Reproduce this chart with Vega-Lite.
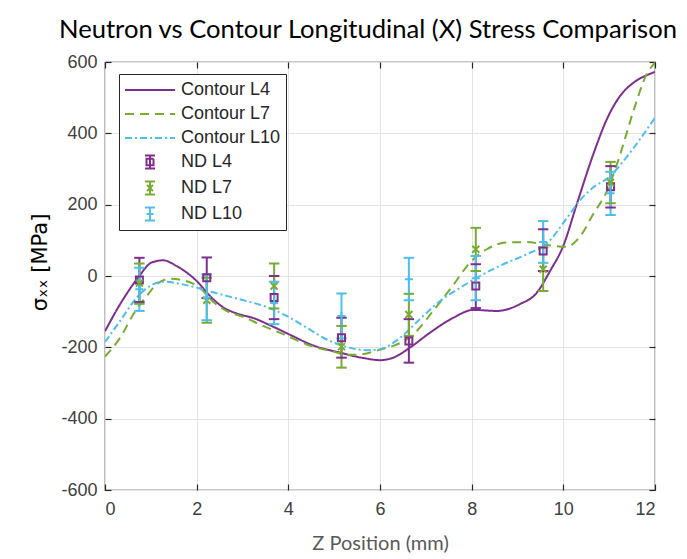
{
  "$schema": "https://vega.github.io/schema/vega-lite/v6.json",
  "width": 550,
  "height": 428,
  "autosize": {"type": "none"},
  "padding": {"left": 105, "top": 62, "right": 32, "bottom": 69},
  "background": "white",
  "title": {
    "text": "Neutron vs Contour Longitudinal (X) Stress Comparison",
    "font": "Lato",
    "fontSize": 25.6,
    "fontWeight": "normal",
    "color": "#000000",
    "anchor": "middle",
    "frame": "group",
    "dx": -12,
    "offset": 9
  },
  "config": {
    "view": {"stroke": "#262626", "strokeWidth": 1.2},
    "axis": {
      "labelFont": "Liberation Sans",
      "labelFontSize": 18,
      "labelColor": "#404040",
      "tickColor": "#262626",
      "tickSize": -6,
      "tickWidth": 1.2,
      "domain": false,
      "gridColor": "#E3E3E3",
      "gridWidth": 1
    }
  },
  "datasets": {
    "contour": [
      {"series": "Contour L4", "x": 0, "y": -155},
      {"series": "Contour L4", "x": 0.33, "y": -79},
      {"series": "Contour L4", "x": 0.72, "y": -5},
      {"series": "Contour L4", "x": 1.02, "y": 38},
      {"series": "Contour L4", "x": 1.27, "y": 44},
      {"series": "Contour L4", "x": 1.56, "y": 28},
      {"series": "Contour L4", "x": 2.0, "y": -14},
      {"series": "Contour L4", "x": 2.29, "y": -56},
      {"series": "Contour L4", "x": 2.58, "y": -88},
      {"series": "Contour L4", "x": 2.87, "y": -105},
      {"series": "Contour L4", "x": 3.24, "y": -118},
      {"series": "Contour L4", "x": 3.6, "y": -138},
      {"series": "Contour L4", "x": 4.04, "y": -165},
      {"series": "Contour L4", "x": 4.55, "y": -195},
      {"series": "Contour L4", "x": 5.13, "y": -215},
      {"series": "Contour L4", "x": 5.64, "y": -230},
      {"series": "Contour L4", "x": 6.0, "y": -236},
      {"series": "Contour L4", "x": 6.29, "y": -229},
      {"series": "Contour L4", "x": 6.65, "y": -201},
      {"series": "Contour L4", "x": 7.09, "y": -159},
      {"series": "Contour L4", "x": 7.6, "y": -117},
      {"series": "Contour L4", "x": 8.04, "y": -95},
      {"series": "Contour L4", "x": 8.55, "y": -98},
      {"series": "Contour L4", "x": 9.05, "y": -79},
      {"series": "Contour L4", "x": 9.42, "y": -47},
      {"series": "Contour L4", "x": 9.71, "y": 14},
      {"series": "Contour L4", "x": 10.0, "y": 85},
      {"series": "Contour L4", "x": 10.29, "y": 200},
      {"series": "Contour L4", "x": 10.65, "y": 340},
      {"series": "Contour L4", "x": 10.98, "y": 448},
      {"series": "Contour L4", "x": 11.24, "y": 505},
      {"series": "Contour L4", "x": 11.53, "y": 542},
      {"series": "Contour L4", "x": 11.82, "y": 563},
      {"series": "Contour L4", "x": 12.0, "y": 572},
      {"series": "Contour L7", "x": 0, "y": -226},
      {"series": "Contour L7", "x": 0.33, "y": -173},
      {"series": "Contour L7", "x": 0.62, "y": -107},
      {"series": "Contour L7", "x": 0.91, "y": -56},
      {"series": "Contour L7", "x": 1.13, "y": -23},
      {"series": "Contour L7", "x": 1.42, "y": -8},
      {"series": "Contour L7", "x": 1.71, "y": -12},
      {"series": "Contour L7", "x": 2.07, "y": -33},
      {"series": "Contour L7", "x": 2.36, "y": -72},
      {"series": "Contour L7", "x": 2.65, "y": -98},
      {"series": "Contour L7", "x": 3.02, "y": -115},
      {"series": "Contour L7", "x": 3.45, "y": -140},
      {"series": "Contour L7", "x": 3.89, "y": -163},
      {"series": "Contour L7", "x": 4.4, "y": -192},
      {"series": "Contour L7", "x": 4.98, "y": -212},
      {"series": "Contour L7", "x": 5.3, "y": -221},
      {"series": "Contour L7", "x": 5.56, "y": -220},
      {"series": "Contour L7", "x": 6.07, "y": -204},
      {"series": "Contour L7", "x": 6.29, "y": -196},
      {"series": "Contour L7", "x": 6.73, "y": -163},
      {"series": "Contour L7", "x": 7.16, "y": -98},
      {"series": "Contour L7", "x": 7.6, "y": -25},
      {"series": "Contour L7", "x": 7.96, "y": 37},
      {"series": "Contour L7", "x": 8.33, "y": 75},
      {"series": "Contour L7", "x": 8.76, "y": 94},
      {"series": "Contour L7", "x": 9.2, "y": 95},
      {"series": "Contour L7", "x": 9.64, "y": 87},
      {"series": "Contour L7", "x": 10.07, "y": 82},
      {"series": "Contour L7", "x": 10.36, "y": 110},
      {"series": "Contour L7", "x": 10.65, "y": 173},
      {"series": "Contour L7", "x": 10.95, "y": 238},
      {"series": "Contour L7", "x": 11.24, "y": 341},
      {"series": "Contour L7", "x": 11.53, "y": 463},
      {"series": "Contour L7", "x": 11.82, "y": 566},
      {"series": "Contour L7", "x": 12.0, "y": 598},
      {"series": "Contour L10", "x": 0, "y": -185},
      {"series": "Contour L10", "x": 0.33, "y": -126},
      {"series": "Contour L10", "x": 0.69, "y": -61},
      {"series": "Contour L10", "x": 0.98, "y": -28},
      {"series": "Contour L10", "x": 1.27, "y": -16},
      {"series": "Contour L10", "x": 1.64, "y": -22},
      {"series": "Contour L10", "x": 2.07, "y": -35},
      {"series": "Contour L10", "x": 2.51, "y": -51},
      {"series": "Contour L10", "x": 3.02, "y": -68},
      {"series": "Contour L10", "x": 3.53, "y": -87},
      {"series": "Contour L10", "x": 3.96, "y": -112},
      {"series": "Contour L10", "x": 4.4, "y": -145},
      {"series": "Contour L10", "x": 4.84, "y": -178},
      {"series": "Contour L10", "x": 5.27, "y": -199},
      {"series": "Contour L10", "x": 5.71, "y": -208},
      {"series": "Contour L10", "x": 6.0, "y": -205},
      {"series": "Contour L10", "x": 6.44, "y": -173},
      {"series": "Contour L10", "x": 6.87, "y": -121},
      {"series": "Contour L10", "x": 7.31, "y": -70},
      {"series": "Contour L10", "x": 7.75, "y": -33},
      {"series": "Contour L10", "x": 8.18, "y": 0},
      {"series": "Contour L10", "x": 8.69, "y": 33},
      {"series": "Contour L10", "x": 9.2, "y": 61},
      {"series": "Contour L10", "x": 9.64, "y": 91},
      {"series": "Contour L10", "x": 10.07, "y": 161},
      {"series": "Contour L10", "x": 10.36, "y": 212},
      {"series": "Contour L10", "x": 10.65, "y": 248},
      {"series": "Contour L10", "x": 11.02, "y": 280},
      {"series": "Contour L10", "x": 11.31, "y": 322},
      {"series": "Contour L10", "x": 11.67, "y": 383},
      {"series": "Contour L10", "x": 12.0, "y": 444}
    ],
    "nd": [
      {"series": "ND L4", "x": 0.75, "y": -11, "lo": -73, "hi": 51},
      {"series": "ND L4", "x": 2.22, "y": -5, "lo": -62, "hi": 52},
      {"series": "ND L4", "x": 3.69, "y": -60, "lo": -121, "hi": 0},
      {"series": "ND L4", "x": 5.16, "y": -173, "lo": -229, "hi": -117},
      {"series": "ND L4", "x": 6.63, "y": -182, "lo": -243, "hi": -121},
      {"series": "ND L4", "x": 8.09, "y": -28, "lo": -90, "hi": 33},
      {"series": "ND L4", "x": 9.56, "y": 70, "lo": 14, "hi": 131},
      {"series": "ND L4", "x": 11.03, "y": 250, "lo": 192, "hi": 308},
      {"series": "ND L7", "x": 0.75, "y": -20, "lo": -78, "hi": 35},
      {"series": "ND L7", "x": 2.22, "y": -68, "lo": -131, "hi": -5},
      {"series": "ND L7", "x": 3.69, "y": -28, "lo": -91, "hi": 35},
      {"series": "ND L7", "x": 5.16, "y": -198, "lo": -257, "hi": -140},
      {"series": "ND L7", "x": 6.63, "y": -108, "lo": -168, "hi": -50},
      {"series": "ND L7", "x": 8.09, "y": 75, "lo": 14, "hi": 135},
      {"series": "ND L7", "x": 9.56, "y": 19, "lo": -42, "hi": 80},
      {"series": "ND L7", "x": 11.03, "y": 262, "lo": 204, "hi": 320},
      {"series": "ND L10", "x": 0.75, "y": -37, "lo": -98, "hi": 23},
      {"series": "ND L10", "x": 2.22, "y": -60, "lo": -124, "hi": 4},
      {"series": "ND L10", "x": 3.69, "y": -76, "lo": -135, "hi": -16},
      {"series": "ND L10", "x": 5.16, "y": -112, "lo": -175, "hi": -49},
      {"series": "ND L10", "x": 6.63, "y": -9, "lo": -68, "hi": 51},
      {"series": "ND L10", "x": 8.09, "y": -6, "lo": -68, "hi": 56},
      {"series": "ND L10", "x": 9.56, "y": 95, "lo": 37, "hi": 154},
      {"series": "ND L10", "x": 11.03, "y": 232, "lo": 171, "hi": 292}
    ]
  },
  "resolve": {"axis": {"x": "independent", "y": "independent"}},
  "layer": [
    {
      "data": {"name": "nd"},
      "mark": {"type": "point", "filled": false, "opacity": 0, "strokeWidth": 2},
      "encoding": {
        "x": {"field": "x", "type": "quantitative",
              "scale": {"domain": [0, 12], "nice": false, "zero": false},
              "axis": {"orient": "top", "values": [0, 2, 4, 6, 8, 10, 12], "labels": false, "grid": false, "title": null}},
        "y": {"field": "y", "type": "quantitative",
              "scale": {"domain": [-600, 600], "nice": false, "zero": false},
              "axis": {"orient": "right", "values": [-600, -400, -200, 0, 200, 400, 600], "labels": false, "grid": false, "title": null}},
        "color": {"field": "series", "type": "nominal",
                  "scale": {"domain": ["Contour L4", "Contour L7", "Contour L10", "ND L4", "ND L7", "ND L10"],
                            "range": ["#7E2F8E", "#77AC30", "#4DBEEE", "#7E2F8E", "#77AC30", "#4DBEEE"]},
                  "legend": {"orient": "none", "legendX": 14, "legendY": 12, "title": null,
                             "padding": 5, "rowPadding": 4, "symbolSize": 400, "labelOffset": 35,
                             "labelFont": "Liberation Sans", "labelFontSize": 18, "labelColor": "#262626",
                             "strokeColor": "#262626", "fillColor": "white", "symbolStrokeWidth": 2,
                             "symbolOpacity": 1, "symbolFillColor": "transparent"}},
        "strokeDash": {"field": "series", "type": "nominal",
                  "scale": {"domain": ["Contour L4", "Contour L7", "Contour L10", "ND L4", "ND L7", "ND L10"],
                            "range": [[1, 0], [9, 6], [7, 3, 2, 3], [1, 0], [1, 0], [1, 0]]}},
        "shape": {"field": "series", "type": "nominal",
                  "scale": {"domain": ["Contour L4", "Contour L7", "Contour L10", "ND L4", "ND L7", "ND L10"],
                            "range": ["M-1,0L4,0", "M-1,0L4,0", "M-1,0L4,0",
                                      "M1.5,-0.65L1.5,0.65M1,-0.65L2,-0.65M1,0.65L2,0.65M1.15,-0.33L1.85,-0.33L1.85,0.33L1.15,0.33Z",
                                      "M1.5,-0.65L1.5,0.65M1,-0.65L2,-0.65M1,0.65L2,0.65M1.2,-0.3L1.8,0.3M1.2,0.3L1.8,-0.3",
                                      "M1.5,-0.65L1.5,0.65M1,-0.65L2,-0.65M1,0.65L2,0.65M1.15,0L1.85,0"]}}
      }
    },
    {
      "data": {"name": "contour"},
      "mark": {"type": "line", "strokeWidth": 2, "interpolate": "monotone", "clip": true},
      "encoding": {
        "x": {"field": "x", "type": "quantitative",
              "axis": {"values": [0, 2, 4, 6, 8, 10, 12], "labelPadding": 16, "grid": true,
                       "title": "Z Position (mm)", "titleFont": "Lato", "titleFontSize": 20,
                       "titleFontWeight": "normal", "titleColor": "#595959", "titlePadding": 15}},
        "y": {"field": "y", "type": "quantitative",
              "axis": {"values": [-600, -400, -200, 0, 200, 400, 600], "labelPadding": 14, "grid": true,
                       "labelExpr": "replace(datum.label, '−', '-')",
                       "title": "σₓₓ [MPa]", "titleFont": "DejaVu Sans", "titleFontSize": 21,
                       "titleFontWeight": "normal", "titleColor": "#000000", "titlePadding": 10, "titleY": 200}},
        "detail": {"field": "series"},
        "color": {"field": "series", "type": "nominal", "legend": null,
                  "scale": {"domain": ["Contour L4", "Contour L7", "Contour L10", "ND L4", "ND L7", "ND L10"],
                            "range": ["#7E2F8E", "#77AC30", "#4DBEEE", "#7E2F8E", "#77AC30", "#4DBEEE"]}},
        "strokeDash": {"field": "series", "type": "nominal", "legend": null,
                  "scale": {"domain": ["Contour L4", "Contour L7", "Contour L10", "ND L4", "ND L7", "ND L10"],
                            "range": [[1, 0], [9, 6], [7, 3, 2, 3], [1, 0], [1, 0], [1, 0]]}}
      }
    },
    {
      "data": {"name": "nd"},
      "mark": {"type": "rule", "strokeWidth": 2},
      "encoding": {
        "x": {"field": "x", "type": "quantitative", "axis": null},
        "y": {"field": "lo", "type": "quantitative", "axis": null},
        "y2": {"field": "hi"},
        "color": {"field": "series", "type": "nominal", "legend": null,
                  "scale": {"domain": ["Contour L4", "Contour L7", "Contour L10", "ND L4", "ND L7", "ND L10"],
                            "range": ["#7E2F8E", "#77AC30", "#4DBEEE", "#7E2F8E", "#77AC30", "#4DBEEE"]}}
      }
    },
    {
      "data": {"name": "nd"},
      "mark": {"type": "point", "shape": "stroke", "size": 110, "strokeWidth": 2, "filled": false, "opacity": 1},
      "encoding": {
        "x": {"field": "x", "type": "quantitative", "axis": null},
        "y": {"field": "lo", "type": "quantitative", "axis": null},
        "color": {"field": "series", "type": "nominal", "legend": null,
                  "scale": {"domain": ["Contour L4", "Contour L7", "Contour L10", "ND L4", "ND L7", "ND L10"],
                            "range": ["#7E2F8E", "#77AC30", "#4DBEEE", "#7E2F8E", "#77AC30", "#4DBEEE"]}}
      }
    },
    {
      "data": {"name": "nd"},
      "mark": {"type": "point", "shape": "stroke", "size": 110, "strokeWidth": 2, "filled": false, "opacity": 1},
      "encoding": {
        "x": {"field": "x", "type": "quantitative", "axis": null},
        "y": {"field": "hi", "type": "quantitative", "axis": null},
        "color": {"field": "series", "type": "nominal", "legend": null,
                  "scale": {"domain": ["Contour L4", "Contour L7", "Contour L10", "ND L4", "ND L7", "ND L10"],
                            "range": ["#7E2F8E", "#77AC30", "#4DBEEE", "#7E2F8E", "#77AC30", "#4DBEEE"]}}
      }
    },
    {
      "data": {"name": "nd"},
      "transform": [{"filter": "datum.series === 'ND L4'"}],
      "mark": {"type": "point", "shape": "square", "size": 49, "strokeWidth": 2, "filled": false, "opacity": 1, "color": "#7E2F8E"},
      "encoding": {
        "x": {"field": "x", "type": "quantitative", "axis": null},
        "y": {"field": "y", "type": "quantitative", "axis": null}
      }
    },
    {
      "data": {"name": "nd"},
      "transform": [{"filter": "datum.series === 'ND L7'"}],
      "mark": {"type": "point", "shape": "M-1,-1L1,1M-1,1L1,-1", "size": 49, "strokeWidth": 2, "filled": false, "opacity": 1, "color": "#77AC30"},
      "encoding": {
        "x": {"field": "x", "type": "quantitative", "axis": null},
        "y": {"field": "y", "type": "quantitative", "axis": null}
      }
    },
    {
      "data": {"name": "nd"},
      "transform": [{"filter": "datum.series === 'ND L10'"}],
      "mark": {"type": "point", "shape": "M-1,0L1,0M0,-1L0,1", "size": 64, "strokeWidth": 2, "filled": false, "opacity": 1, "color": "#4DBEEE"},
      "encoding": {
        "x": {"field": "x", "type": "quantitative", "axis": null},
        "y": {"field": "y", "type": "quantitative", "axis": null}
      }
    }
  ]
}
